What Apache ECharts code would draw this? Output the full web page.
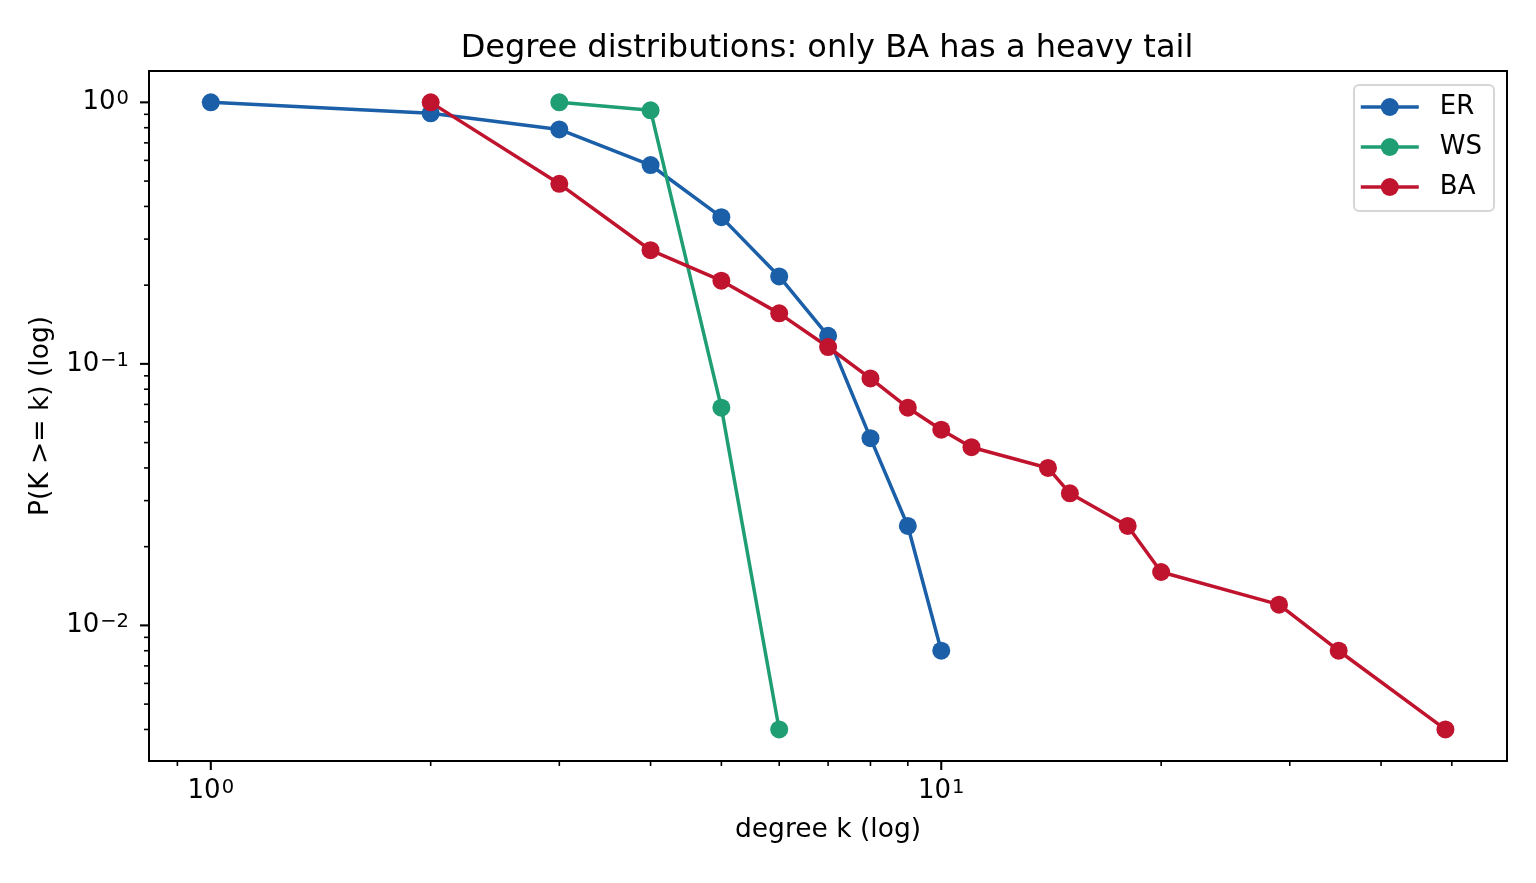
<!DOCTYPE html>
<html>
<head>
<meta charset="utf-8">
<script src="https://cdn.jsdelivr.net/npm/echarts@6/dist/echarts.min.js"></script>
<style>
html,body{margin:0;padding:0;background:#fff;}
#chart{width:1536px;height:883px;}
</style>
</head>
<body>
<div id="chart"></div>
<script>
// ---- data ----
const erK = [1, 2, 3, 4, 5, 6, 7, 8, 9, 10];
const erP = [1.0, 0.908, 0.788, 0.576, 0.364, 0.216, 0.128, 0.052, 0.024, 0.008];
const wsK = [3, 4, 5, 6];
const wsP = [1.0, 0.932, 0.068, 0.004];
const baK = [2, 3, 4, 5, 6, 7, 8, 9, 10, 11, 14, 15, 18, 20, 29, 35, 49];
const baP = [1.0, 0.488, 0.272, 0.208, 0.156, 0.116, 0.088, 0.068, 0.056, 0.048, 0.04, 0.032, 0.024, 0.016, 0.012, 0.008, 0.004];
const majorTicksX = [1, 10];
const minorTicksX = [0.9, 2, 3, 4, 5, 6, 7, 8, 9, 20, 30, 40, 50];
const majorTicksY = [0.01, 0.1, 1];
const minorTicksY = [0.004, 0.005, 0.006, 0.007, 0.008, 0.009, 0.02, 0.03, 0.04, 0.05, 0.06, 0.07, 0.08, 0.09, 0.2, 0.3, 0.4, 0.5, 0.6, 0.7, 0.8, 0.9];
const xRange = [0.823, 59.5];
const yRange = [0.00303, 1.318];

const zip = (a, b) => a.map((v, i) => [v, b[i]]);
const FONT = 'DejaVu Sans';

function supLabel(v) {
  const e = Math.round(Math.log10(v));
  if (Math.abs(Math.log10(v) - e) > 1e-6) return '';
  const s = e < 0 ? '\u2212' + (-e) : String(e);
  return '{b|10}{sup|' + s + '}';
}
const richLab = {
  b: { fontFamily: FONT, fontSize: 26, color: '#000', verticalAlign: 'bottom' },
  sup: { fontFamily: FONT, fontSize: 19.5, color: '#000', verticalAlign: 'top', padding: [0, 0, 0, 1] }
};

const chart = echarts.init(document.getElementById('chart'), null, { renderer: 'canvas' });

function tickSeries(vals, axis, len, width) {
  return {
    type: 'custom',
    silent: true,
    clip: false,
    z: 1,
    data: vals.map(v => axis === 'x' ? [v, 0.1] : [2, v]),
    renderItem: function (params, api) {
      const cs = params.coordSys;
      const p = api.coord([api.value(0), api.value(1)]);
      if (axis === 'x') {
        const yb = cs.y + cs.height;
        return { type: 'line', shape: { x1: p[0], y1: yb, x2: p[0], y2: yb + len },
          style: { stroke: '#000', lineWidth: width } };
      } else {
        const xl = cs.x;
        return { type: 'line', shape: { x1: xl - len, y1: p[1], x2: xl, y2: p[1] },
          style: { stroke: '#000', lineWidth: width } };
      }
    }
  };
}

function lineSeries(name, k, p, color) {
  return {
    name: name, type: 'line', data: zip(k, p),
    symbol: 'circle', symbolSize: 18, showAllSymbol: true,
    lineStyle: { color: color, width: 3.5 },
    itemStyle: { color: color },
    emphasis: { disabled: true },
    animation: false, z: 3
  };
}

const option = {
  animation: false,
  backgroundColor: '#fff',
  title: {
    text: 'Degree distributions: only BA has a heavy tail',
    left: 822, textAlign: 'center', top: 28,
    textStyle: { fontFamily: FONT, fontSize: 32, fontWeight: 'normal', color: '#000' }
  },
  grid: { left: 149, right: 29, top: 71, bottom: 122, show: true, borderColor: '#000', borderWidth: 2, backgroundColor: 'transparent' },
  legend: {
    data: ['ER', 'WS', 'BA'],
    orient: 'vertical', right: 42, top: 85,
    itemWidth: 58, itemHeight: 22.5, itemGap: 14,
    padding: [9, 12, 11, 5],
    borderColor: '#d6d6d6', borderWidth: 2, borderRadius: 5,
    backgroundColor: 'rgba(255,255,255,0.8)',
    lineStyle: { width: 3.5 },
    textStyle: { fontFamily: FONT, fontSize: 26, color: '#000', padding: [0, 0, 0, 16] }
  },
  xAxis: {
    type: 'log', logBase: 10, min: xRange[0], max: xRange[1],
    name: 'degree k (log)', nameLocation: 'middle', nameGap: 56,
    nameTextStyle: { fontFamily: FONT, fontSize: 26.5, color: '#000' },
    axisLine: { show: true, lineStyle: { color: '#000', width: 2 } },
    axisTick: { show: false },
    splitLine: { show: false },
    axisLabel: { formatter: supLabel, rich: richLab, margin: 17, showMinLabel: false, showMaxLabel: false }
  },
  yAxis: {
    type: 'log', logBase: 10, min: yRange[0], max: yRange[1],
    name: 'P(K >= k) (log)', nameLocation: 'middle', nameGap: 94, nameRotate: 90,
    nameTextStyle: { fontFamily: FONT, fontSize: 26.5, color: '#000' },
    axisLine: { show: true, lineStyle: { color: '#000', width: 2 } },
    axisTick: { show: false },
    splitLine: { show: false },
    axisLabel: { formatter: supLabel, rich: richLab, margin: 20, showMinLabel: false, showMaxLabel: false }
  },
  series: [
    lineSeries('ER', erK, erP, '#1a5fa8'),
    lineSeries('WS', wsK, wsP, '#1f9e74'),
    lineSeries('BA', baK, baP, '#c0142e'),
    tickSeries(majorTicksX, 'x', 9, 2.1),
    tickSeries(minorTicksX, 'x', 5, 1.6),
    tickSeries(majorTicksY, 'y', 9, 2.1),
    tickSeries(minorTicksY, 'y', 5, 1.6)
  ]
};
chart.setOption(option);
</script>
</body>
</html>
